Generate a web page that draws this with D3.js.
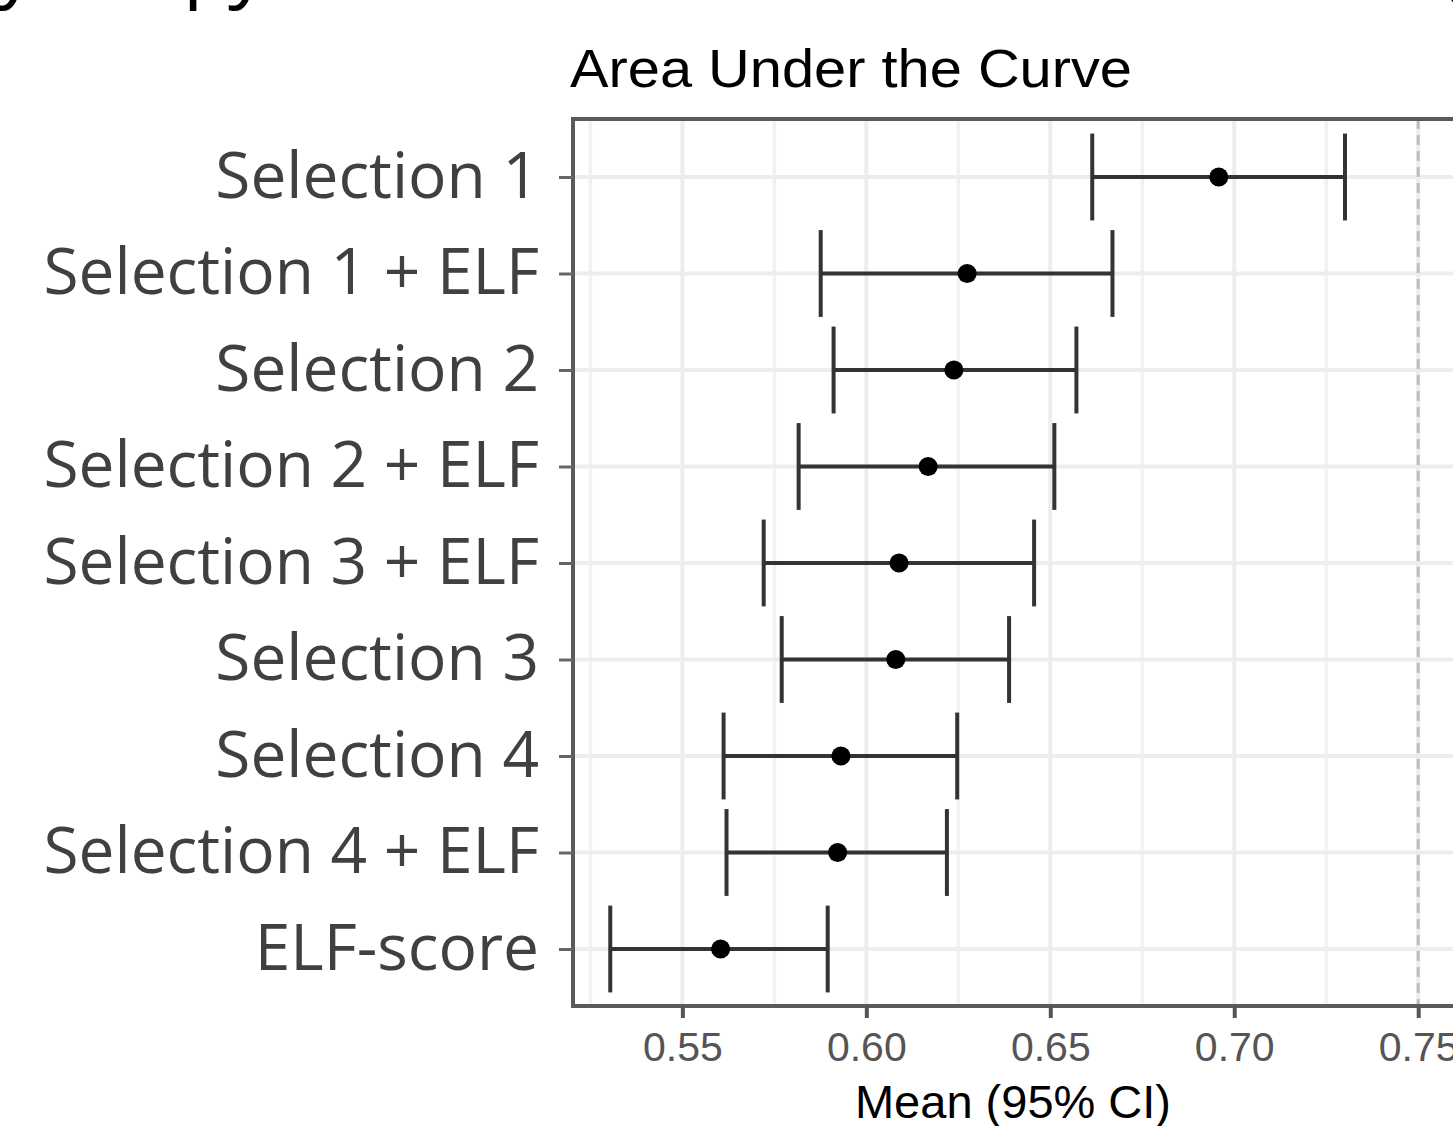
<!DOCTYPE html>
<html>
<head>
<meta charset="utf-8">
<script src="https://cdn.jsdelivr.net/npm/d3@7"></script>
<style>
  body { margin: 0; background: #fff; }
  svg { display: block; }
</style>
</head>
<body>
<div id="chart"></div>
<script>
// models, top to bottom
const models = ["Selection 1", "Selection 1 + ELF", "Selection 2", "Selection 2 + ELF",
  "Selection 3 + ELF", "Selection 3", "Selection 4", "Selection 4 + ELF", "ELF-score"];
const meanAuc = [0.6958, 0.6274, 0.6238, 0.6168, 0.6089, 0.6080, 0.5931, 0.5922, 0.5604];
const lowerCi = [0.6614, 0.5876, 0.5911, 0.5816, 0.5721, 0.5770, 0.5612, 0.5620, 0.5304];
const upperCi = [0.7301, 0.6669, 0.6571, 0.6511, 0.6456, 0.6388, 0.6247, 0.6219, 0.5895];
const xTicks = [0.55, 0.60, 0.65, 0.70, 0.75];
const xMinor = [0.525, 0.575, 0.625, 0.675, 0.725];
const refLine = 0.75;

const data = models.map((m, i) => ({model: m, mean: meanAuc[i], lo: lowerCi[i], hi: upperCi[i]}));

const W = 1453, H = 1126;
const panel = {left: 573, top: 119, bottom: 1006};

const svg = d3.select("#chart").append("svg")
  .attr("width", W).attr("height", H);

// cropped caption line above the figure (only descenders visible)
const capFont = "'Open Sans', sans-serif";
[["y", -4], ["p", 183], ["y", 228], ["(", 1440]].forEach(([t, x]) => {
  svg.append("text").attr("x", x).attr("y", -8)
    .attr("font-family", capFont).attr("font-size", 80).attr("fill", "#000").text(t);
});

const x = d3.scaleLinear().domain([0.52, 0.76]).range([572, 1455]);
const y = d3.scalePoint().domain(models).range([177, 949]);

// grid
const grid = svg.append("g");
grid.selectAll(".minor").data(xMinor).join("line")
  .attr("x1", d => x(d)).attr("x2", d => x(d))
  .attr("y1", panel.top).attr("y2", panel.bottom)
  .attr("stroke", "#f2f2f2").attr("stroke-width", 3.5);
grid.selectAll(".major").data(xTicks).join("line")
  .attr("x1", d => x(d)).attr("x2", d => x(d))
  .attr("y1", panel.top).attr("y2", panel.bottom)
  .attr("stroke", "#ededed").attr("stroke-width", 4);
grid.selectAll(".hgrid").data(models).join("line")
  .attr("x1", panel.left).attr("x2", W)
  .attr("y1", d => y(d)).attr("y2", d => y(d))
  .attr("stroke", "#ededed").attr("stroke-width", 4);

// reference line
svg.append("line")
  .attr("x1", x(refLine)).attr("x2", x(refLine))
  .attr("y1", panel.top).attr("y2", panel.bottom)
  .attr("stroke", "#bdbdbd").attr("stroke-width", 3)
  .attr("stroke-dasharray", "10,6");

// error bars
const bars = svg.append("g").selectAll("g").data(data).join("g");
const capH = 0.9 * y.step() / 2;
bars.append("line")
  .attr("x1", d => x(d.lo)).attr("x2", d => x(d.hi))
  .attr("y1", d => y(d.model)).attr("y2", d => y(d.model))
  .attr("stroke", "#333").attr("stroke-width", 4);
bars.append("line")
  .attr("x1", d => x(d.lo)).attr("x2", d => x(d.lo))
  .attr("y1", d => y(d.model) - capH).attr("y2", d => y(d.model) + capH)
  .attr("stroke", "#333").attr("stroke-width", 4);
bars.append("line")
  .attr("x1", d => x(d.hi)).attr("x2", d => x(d.hi))
  .attr("y1", d => y(d.model) - capH).attr("y2", d => y(d.model) + capH)
  .attr("stroke", "#333").attr("stroke-width", 4);
bars.append("circle")
  .attr("cx", d => x(d.mean)).attr("cy", d => y(d.model))
  .attr("r", 9.5).attr("fill", "#000");

// panel border
svg.append("path")
  .attr("d", `M${W + 10},${panel.top}H${panel.left}V${panel.bottom}H${W + 10}`)
  .attr("fill", "none").attr("stroke", "#5a5a5a").attr("stroke-width", 4);

// x axis
const xAxis = d3.axisBottom(x).tickValues(xTicks).tickFormat(d3.format(".2f"))
  .tickSize(12).tickPadding(14);
const xAxisG = svg.append("g").attr("transform", `translate(0,${panel.bottom})`).call(xAxis);
xAxisG.select(".domain").remove();
xAxisG.selectAll(".tick line").attr("stroke", "#555").attr("stroke-width", 4);
xAxisG.selectAll(".tick text")
  .attr("font-family", "'Liberation Sans', Arial, sans-serif")
  .attr("font-size", 41).attr("fill", "#555");

// y axis
const yAxis = d3.axisLeft(y).tickSize(14).tickPadding(20);
const yAxisG = svg.append("g").attr("transform", `translate(${panel.left},0)`).call(yAxis);
yAxisG.select(".domain").remove();
yAxisG.selectAll(".tick line").attr("stroke", "#666").attr("stroke-width", 3);
yAxisG.selectAll(".tick text")
  .attr("font-family", "'Open Sans', sans-serif")
  .attr("font-size", 64).attr("fill", "#404040")
  .attr("dy", "0.32em");

// title + axis title
svg.append("text").attr("x", 570).attr("y", 87)
  .attr("font-family", "'Liberation Sans', Arial, sans-serif")
  .attr("font-size", 54).attr("fill", "#000")
  .attr("textLength", 562).attr("lengthAdjust", "spacingAndGlyphs")
  .text("Area Under the Curve");
svg.append("text").attr("x", 1013).attr("y", 1118)
  .attr("text-anchor", "middle")
  .attr("font-family", "'Liberation Sans', Arial, sans-serif")
  .attr("font-size", 47).attr("fill", "#000")
  .text("Mean (95% CI)");
</script>
</body>
</html>
